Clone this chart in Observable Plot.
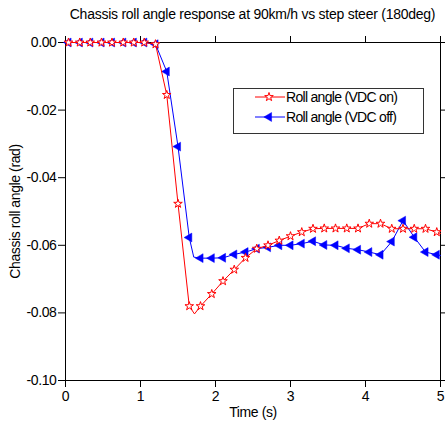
<!DOCTYPE html>
<html><head><meta charset="utf-8">
<script src="https://cdn.jsdelivr.net/npm/d3@7"></script>
<script src="https://cdn.jsdelivr.net/npm/@observablehq/plot@0.6"></script>
<style>
body{margin:0;background:#fff;}
#wrap{position:relative;width:445px;height:423px;font-family:"Liberation Sans",Arial,sans-serif;color:#000;}
#title{position:absolute;left:65px;width:375px;top:0;height:28px;line-height:28px;font-size:14px;letter-spacing:-0.25px;text-align:center;white-space:nowrap;}
#chart{position:absolute;left:0;top:28px;}
#legend{position:absolute;left:233px;top:88px;width:189px;height:44px;border:1px solid #333;background:#fff;}
#legend svg{display:block;}
</style>
</head><body>
<div id="wrap">
  <div id="title"></div>
  <div id="chart"></div>
  <div id="legend"></div>
</div>
<script>
// ---- data ----
const markTime = [0.04,0.19,0.33,0.48,0.62,0.77,0.91,1.05,1.2,1.35,1.5,1.65,1.8,1.95,2.1,2.25,2.4,2.55,2.7,2.85,3.0,3.15,3.3,3.45,3.6,3.75,3.9,4.05,4.2,4.35,4.5,4.65,4.8,4.95];
const rollVdcOn = [0,0,0,0,0,0,0,0,-0.0005,-0.0155,-0.0477,-0.078,-0.078,-0.0744,-0.0706,-0.0672,-0.0637,-0.061,-0.06,-0.0586,-0.0573,-0.0561,-0.0551,-0.055,-0.055,-0.055,-0.055,-0.0536,-0.0536,-0.0551,-0.0551,-0.0551,-0.0551,-0.0561];
const rollVdcOff = [0,0,0,0,0,0,0,0,-0.0005,-0.0086,-0.0308,-0.0577,-0.0638,-0.0638,-0.0637,-0.0627,-0.062,-0.061,-0.0606,-0.06,-0.06,-0.0595,-0.0588,-0.0599,-0.06,-0.0609,-0.0613,-0.062,-0.0628,-0.0589,-0.0527,-0.0576,-0.062,-0.0628];
// extra line vertices (start, extreme, end)
const extraTimeOn = [0, 1.72, 5.0];
const extraOn = [0, -0.0803, -0.0565];
const extraTimeOff = [0, 1.71, 5.0];
const extraOff = [0, -0.0635, -0.063];
const xTicks = [0,1,2,3,4,5];
const yTicks = [0,-0.02,-0.04,-0.06,-0.08,-0.10];
const seriesNames = ["Roll angle (VDC on)", "Roll angle (VDC off)"];
const title = "Chassis roll angle response at 90km/h vs step steer (180deg)";
const xLabel = "Time (s)";
const yLabel = "Chassis roll angle (rad)";

const RED = "#ff0000", BLUE = "#0000ff";
const FONT = '"Liberation Sans",Arial,sans-serif';

const onMarks = markTime.map((t,i)=>({t, v: rollVdcOn[i]}));
const offMarks = markTime.map((t,i)=>({t, v: rollVdcOff[i]}));
const onLine = onMarks.concat(extraTimeOn.map((t,i)=>({t, v: extraOn[i]}))).sort((a,b)=>a.t-b.t);
const offLine = offMarks.concat(extraTimeOff.map((t,i)=>({t, v: extraOff[i]}))).sort((a,b)=>a.t-b.t);

const plot = Plot.plot({
  width: 445, height: 395,
  marginTop: 14, marginLeft: 65, marginRight: 5, marginBottom: 43,
  style: {fontFamily: FONT, fontSize: "14px", letterSpacing: "-0.4px", color: "black", background: "white", overflow: "visible"},
  x: {domain: [0, 5], label: null},
  y: {domain: [-0.10, 0], label: null},
  marks: [
    Plot.axisX({anchor: "bottom", ticks: xTicks, tickSize: 7, tickPadding: 4, tickFormat: d => String(d), label: xLabel, labelArrow: "none", labelAnchor: "center", labelOffset: 36}),
    Plot.axisX({anchor: "top", ticks: xTicks, tickSize: 7, tickFormat: () => "", label: null}),
    Plot.axisY({anchor: "left", ticks: yTicks, tickSize: 7, tickPadding: 2, tickFormat: d => d.toFixed(2), label: yLabel, labelArrow: "none", labelAnchor: "center", labelOffset: 55}),
    Plot.axisY({anchor: "right", ticks: yTicks, tickSize: 7, tickFormat: () => "", label: null}),
    Plot.frame({stroke: "black", strokeWidth: 1}),
    Plot.line(offLine, {x: "t", y: "v", stroke: BLUE, strokeWidth: 1}),
    Plot.dot(offMarks, {x: "t", y: "v", symbol: "triangle", r: 3.3, fill: BLUE, stroke: BLUE, strokeWidth: 0.5, rotate: -90}),
    Plot.line(onLine, {x: "t", y: "v", stroke: RED, strokeWidth: 1}),
    Plot.dot(onMarks, {x: "t", y: "v", symbol: "star", r: 2.7, fill: "white", stroke: RED, strokeWidth: 1})
  ]
});
document.getElementById("chart").appendChild(plot);
document.getElementById("title").textContent = title;

// legend
const lg = d3.select("#legend").append("svg").attr("width", 189).attr("height", 44);
const rows = [
  {name: seriesNames[0], color: RED, y: 8, sym: d3.symbol(d3.symbolStar, 2.7*2.7*Math.PI)(), fill: "white", rot: 0},
  {name: seriesNames[1], color: BLUE, y: 28, sym: d3.symbol(d3.symbolTriangle, 3.3*3.3*Math.PI)(), fill: BLUE, rot: -90}
];
rows.forEach(r => {
  lg.append("line").attr("x1", 21).attr("x2", 51).attr("y1", r.y).attr("y2", r.y).attr("stroke", r.color).attr("stroke-width", 1);
  lg.append("path").attr("d", r.sym).attr("transform", `translate(35,${r.y}) rotate(${r.rot})`).attr("fill", r.fill).attr("stroke", r.color).attr("stroke-width", r.rot ? 0.5 : 1);
  lg.append("text").attr("x", 52).attr("y", r.y).attr("dy", "0.35em").attr("font-size", 14).attr("letter-spacing", "-0.7px").attr("font-family", FONT).text(r.name);
});
</script>
</body></html>
